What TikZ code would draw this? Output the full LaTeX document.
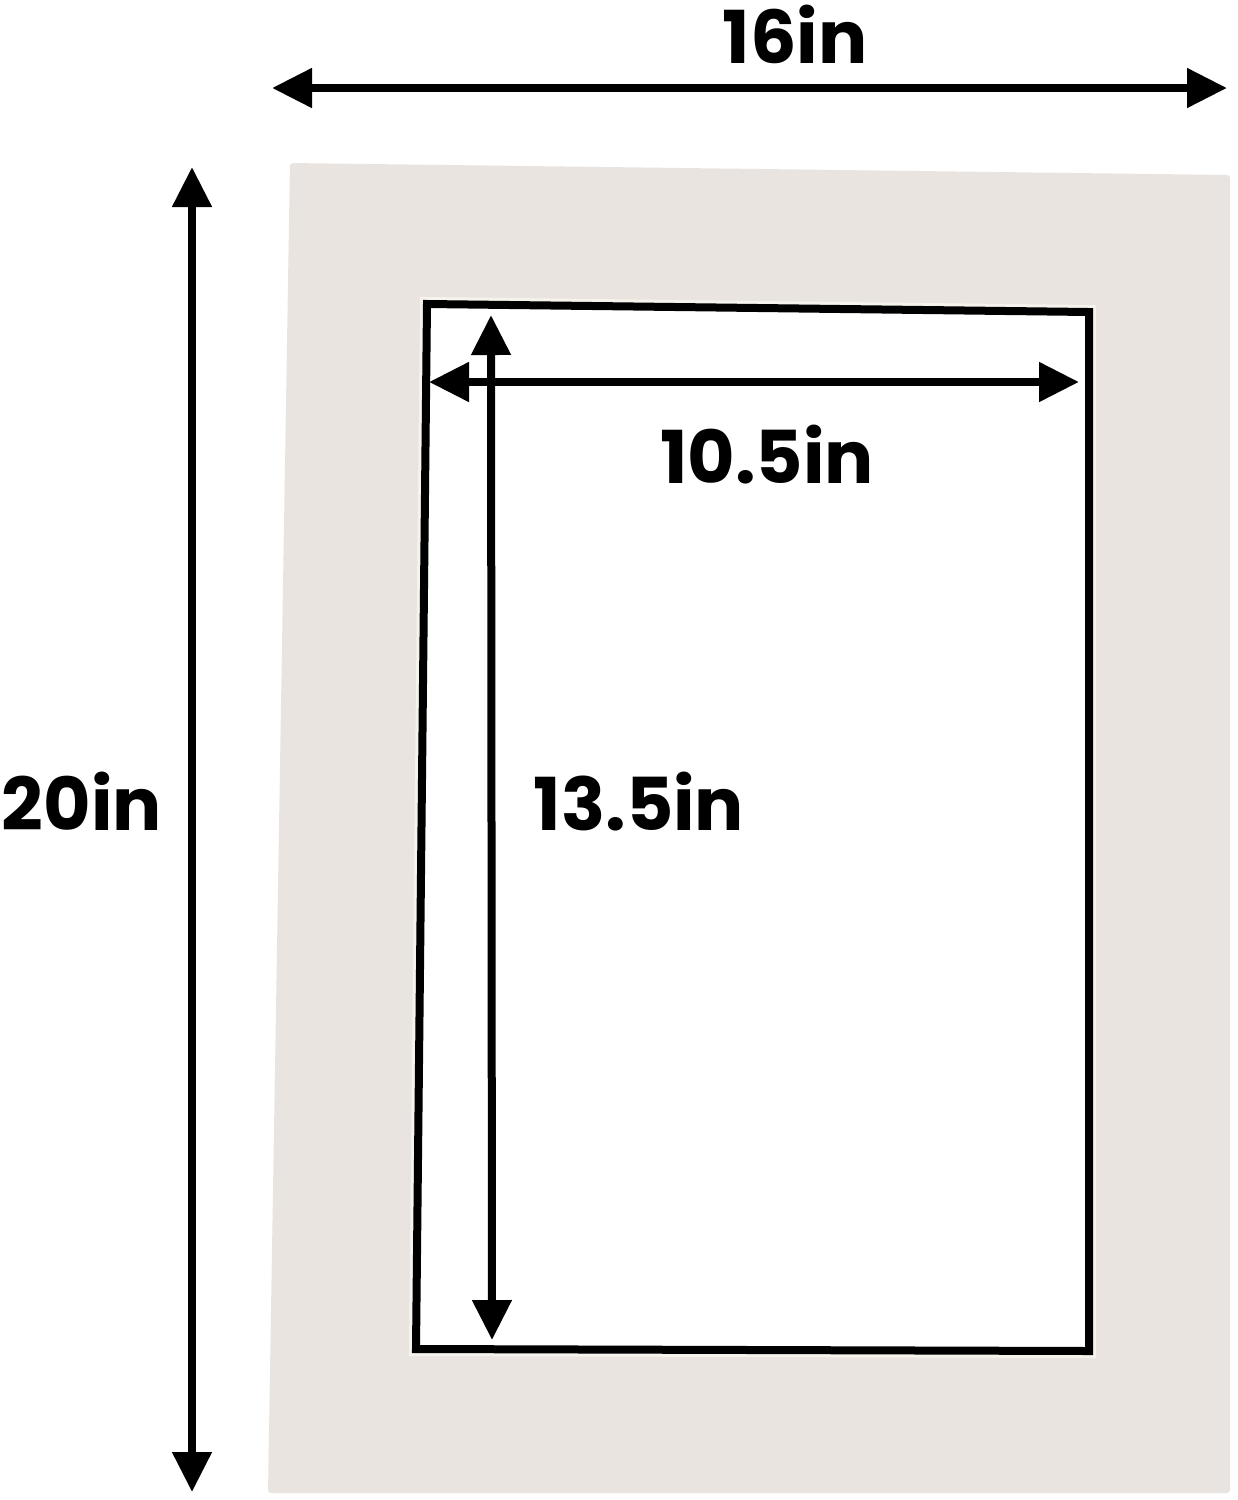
\documentclass[tikz,border=0pt]{standalone}
\usepackage{fontspec}
\setmainfont{Poppins}
\usetikzlibrary{arrows.meta}
\definecolor{matcol}{HTML}{EAE4E0}
\definecolor{bevel}{HTML}{F6F3EC}
\tikzset{
  dim/.style={line width=8pt, {Triangle[length=40pt,width=38pt]}-{Triangle[length=40pt,width=38pt]}},
  lbl/.style={anchor=base, inner sep=0pt, font=\fontsize{73}{73}\selectfont\bfseries}
}
\begin{document}
\begin{tikzpicture}[x=1pt,y=-1pt]
\useasboundingbox (0,0) rectangle (1238,1500);
\fill[white] (0,0) rectangle (1238,1500);
% mat board
\fill[matcol, rounded corners=3pt] (290,163) -- (1230,175) -- (1230,1493) -- (268,1493) -- cycle;
% window
\draw[bevel, line width=14pt, line join=miter] (427,304) -- (1089,312) -- (1089,1351) -- (416,1349) -- cycle;
\filldraw[fill=white, draw=black, line width=8pt, line join=miter] (427,304) -- (1089,312) -- (1089,1351) -- (416,1349) -- cycle;
% dimension end points
\coordinate (tl) at (272,88);
\coordinate (tr) at (1227,88);
\coordinate (lt) at (192,167);
\coordinate (lb) at (192,1492);
\coordinate (it) at (491,315);
\coordinate (ib) at (492,1340);
\coordinate (hl) at (429,382);
\coordinate (hr) at (1079,382);
\draw[dim] (tl) -- (tr);
\draw[dim] (lt) -- (lb);
\draw[dim] (it) -- (ib);
\draw[dim] (hl) -- (hr);
% labels
\node[lbl] (w) at (795,63) {16in};
\node[lbl] (h) at (82,830) {20in};
\node[lbl] (iw) at (767,483) {10.5in};
\node[lbl] (ih) at (639,830) {13.5in};
\end{tikzpicture}
\end{document}
